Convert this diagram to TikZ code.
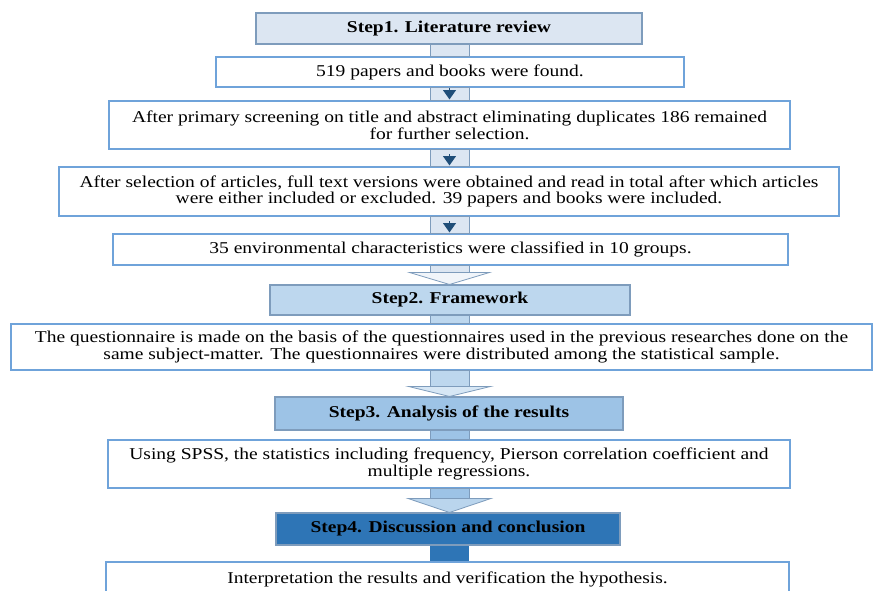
\documentclass[tikz,border=0pt]{standalone}
\usepackage{fontspec}
\setmainfont{Liberation Serif}[FakeStretch=1.18]
\usepackage{xcolor}
\usetikzlibrary{arrows.meta,positioning,calc}
\definecolor{lineA}{HTML}{7E9CBC}
\definecolor{lineB}{HTML}{6FA3DA}
\definecolor{fillA}{HTML}{DCE6F2}
\definecolor{fillB}{HTML}{BDD7EE}
\definecolor{fillC}{HTML}{9DC3E6}
\definecolor{fillD}{HTML}{2E75B6}
\definecolor{tipcol}{HTML}{1F4E79}

\begin{document}
\begin{tikzpicture}[
  x=0.75pt,y=-0.75pt,
  stepbox/.style={draw=lineA,line width=0.8pt,align=center,inner sep=0pt,
                  font=\fontsize{12.4}{13}\selectfont\bfseries},
  txtbox/.style={draw=lineB,line width=0.8pt,fill=white,align=center,inner sep=0pt,
                 font=\fontsize{12.4}{12.6}\selectfont},
  stub/.style={draw=lineA,line width=0.6pt},
  head/.style={draw=lineA,line width=0.6pt},
  minor/.style={-{Triangle[width=9.5pt,length=7pt]},line width=1.3pt,draw=tipcol}
]
\useasboundingbox (0,0) rectangle (876,590);
\fill[white] (0,0) rectangle (876,590);
\coordinate (axis) at (449.5,0);

% step 1
\node[stepbox,fill=fillA,minimum width=289.5pt,minimum height=23.25pt] (step1) at (449,28.5) {Step1. Literature review};
\node[txtbox,minimum width=351pt,minimum height=22.5pt] (found) at (450,72) {519 papers and books were found.};
\node[txtbox,minimum width=510.75pt,minimum height=36pt] (screen) at (449.5,125) {After primary screening on title and abstract eliminating duplicates 186 remained\\for further selection.};
\node[txtbox,minimum width=585pt,minimum height=36.75pt] (select) at (449,191.5) {After selection of articles, full text versions were obtained and read in total after which articles\\were either included or excluded. 39 papers and books were included.};
\node[txtbox,minimum width=506.25pt,minimum height=23.25pt] (classes) at (450.5,249.5) {35 environmental characteristics were classified in 10 groups.};

% step 2
\node[stepbox,fill=fillB,minimum width=270pt,minimum height=22.5pt] (step2) at (450,300) {Step2. Framework};
\node[txtbox,minimum width=645.75pt,minimum height=34.5pt] (quest) at (441.5,347) {The questionnaire is made on the basis of the questionnaires used in the previous researches done on the\\same subject-matter. The questionnaires were distributed among the statistical sample.};

% step 3
\node[stepbox,fill=fillC,minimum width=261pt,minimum height=24.75pt] (step3) at (449,413.5) {Step3. Analysis of the results};
\node[txtbox,minimum width=511.5pt,minimum height=36pt] (spss) at (449,464) {Using SPSS, the statistics including frequency, Pierson correlation coefficient and\\multiple regressions.};

% step 4
\node[stepbox,fill=fillD,minimum width=258pt,minimum height=24pt] (step4) at (448,529) {Step4. Discussion and conclusion};
\node[txtbox,minimum width=512.25pt,minimum height=25.5pt] (interp) at (447.5,579) {Interpretation the results and verification the hypothesis.};

% stubs
\draw[stub,fill=fillA] ($(axis|-step1.south)+(-19.5,0)$) rectangle ($(axis|-found.north)+(19.5,0)$);
\foreach \a/\b in {found/screen,screen/select,select/classes}{
  \draw[stub,fill=fillA] ($(axis|-\a.south)+(-19.5,0)$) rectangle ($(axis|-\b.north)+(19.5,0)$);
  \draw[minor] ($(axis|-\b.north)+(0,-12)$) -- ($(axis|-\b.north)+(0,-1)$);
}
\draw[stub,fill=fillA] ($(axis|-classes.south)+(-19.5,0)$) rectangle ($(axis|-step2.north)+(19.5,-12)$);
\draw[head,fill=fillA!40] ($(axis|-step2.north)+(-40,-12)$) -- ($(axis|-step2.north)+(40,-12)$) -- (axis|-step2.north) -- cycle;

\draw[stub,fill=fillB] ($(axis|-step2.south)+(-19.5,0)$) rectangle ($(axis|-quest.north)+(19.5,0)$);
\draw[stub,fill=fillB] ($(axis|-quest.south)+(-19.5,0)$) rectangle ($(axis|-step3.north)+(19.5,-10)$);
\draw[head,fill=fillB!60] ($(axis|-step3.north)+(-41,-10)$) -- ($(axis|-step3.north)+(41,-10)$) -- (axis|-step3.north) -- cycle;

\draw[stub,fill=fillC] ($(axis|-step3.south)+(-19.5,0)$) rectangle ($(axis|-spss.north)+(19.5,0)$);
\draw[stub,fill=fillC] ($(axis|-spss.south)+(-19.5,0)$) rectangle ($(axis|-step4.north)+(19.5,-14)$);
\draw[head,fill=fillC!70] ($(axis|-step4.north)+(-41.5,-14)$) -- ($(axis|-step4.north)+(41.5,-14)$) -- (axis|-step4.north) -- cycle;

\fill[fillD] ($(axis|-step4.south)+(-19.5,0)$) rectangle ($(axis|-interp.north)+(19.5,0)$);
\end{tikzpicture}
\end{document}
